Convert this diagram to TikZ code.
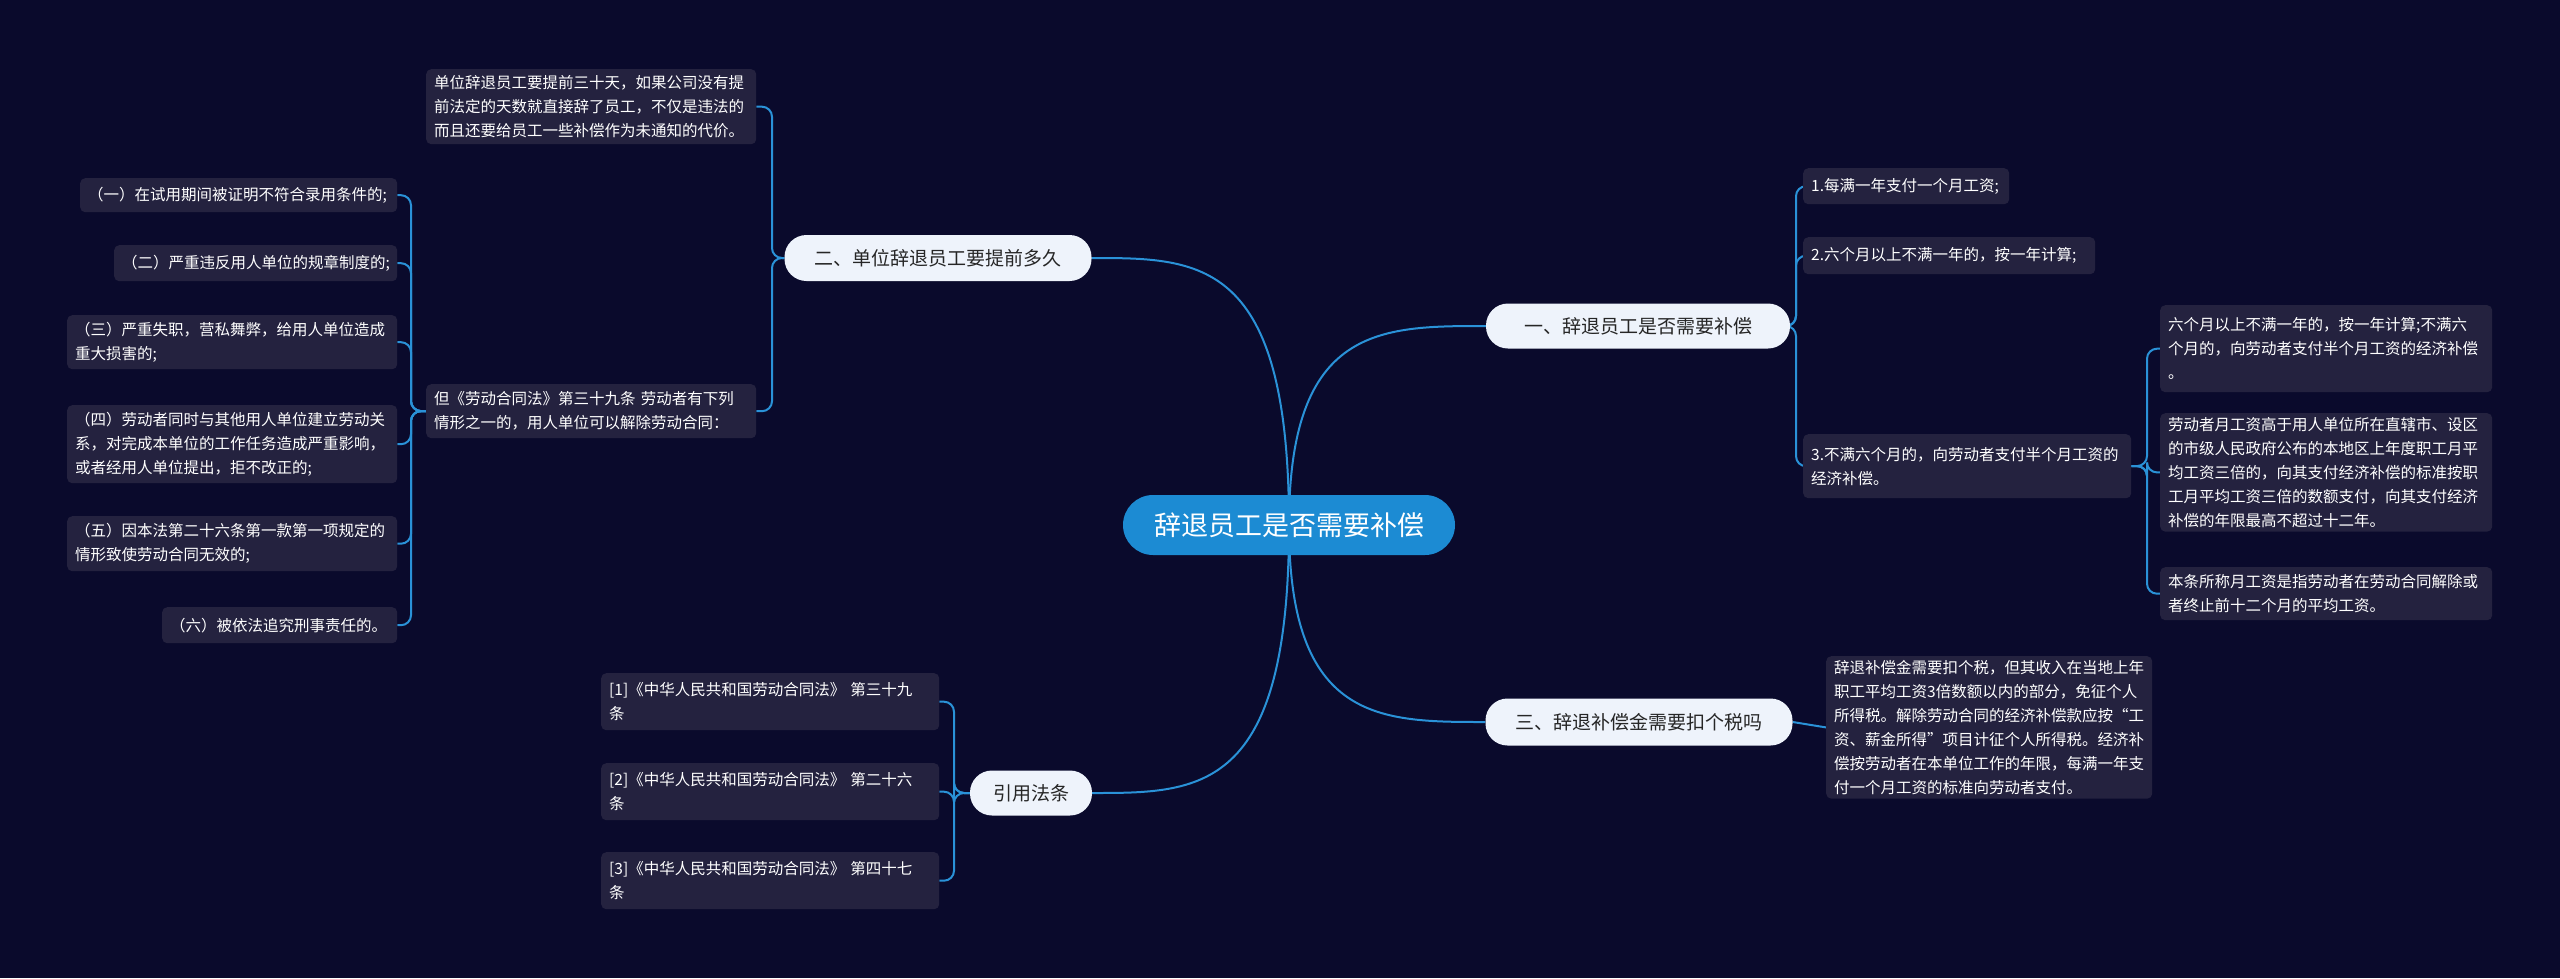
\documentclass[tikz,border=0pt]{standalone}
\usepackage{fontspec}
\setmainfont{Noto Sans CJK SC}
\usetikzlibrary{calc}
\definecolor{bgc}{HTML}{0A0A2C}
\definecolor{leafc}{HTML}{24223F}
\definecolor{linec}{HTML}{2A92D8}
\definecolor{brc}{HTML}{EEF3FB}
\definecolor{rootc}{HTML}{1C8BD3}
\pgfdeclarelayer{edges}
\pgfsetlayers{edges,main}
\tikzset{
 leaf/.style={fill=leafc,text=white,rounded corners=5pt,anchor=north west,inner xsep=8pt,inner ysep=4pt,align=left,font=\fontsize{15.5}{24}\selectfont},
 branch/.style={fill=brc,text=black!85,rounded corners=22pt,inner sep=0pt,font=\fontsize{19}{24}\selectfont},
 conn/.style={draw=linec,line width=2pt,rounded corners=10pt},
}
\newcommand{\leafbox}[6]{% name, x1,y1,x2,y2, text
 \node[leaf,minimum width={#4-#2},minimum height={#5-#3},text width={#4-#2-16}] (#1) at (#2,-#3) {#6};}
\begin{document}
\begin{tikzpicture}[x=1pt,y=1pt]
\begin{pgfonlayer}{edges}
\fill[bgc] (0,0) rectangle (2560,-978);
\end{pgfonlayer}
\useasboundingbox (0,0) rectangle (2560,-978);
\node[fill=rootc,text=white,rounded corners=30pt,minimum width=332,minimum height=60,font=\fontsize{27}{30}\selectfont] (root) at (1289,-525) {辞退员工是否需要补偿};
\node[branch,minimum width=304,minimum height=45] (b1) at (1638,-326) {一、辞退员工是否需要补偿};
\node[branch,minimum width=307,minimum height=47] (b3) at (1639,-722) {三、辞退补偿金需要扣个税吗};
\node[branch,minimum width=307,minimum height=46] (b2) at (938,-258) {二、单位辞退员工要提前多久};
\node[branch,minimum width=122,minimum height=45] (b4) at (1031,-793) {引用法条};
% right side
\leafbox{r1}{1803}{168}{2009}{204}{1.每满一年支付一个月工资;}
\leafbox{r2}{1803}{237}{2095}{274}{2.六个月以上不满一年的，按一年计算;}
\leafbox{r3}{1803}{434}{2131}{498}{3.不满六个月的，向劳动者支付半个月工资的\\经济补偿。}
\leafbox{s1}{2160}{305}{2492}{392}{六个月以上不满一年的，按一年计算;不满六\\个月的，向劳动者支付半个月工资的经济补偿\\。}
\leafbox{s2}{2160}{413}{2492}{531}{劳动者月工资高于用人单位所在直辖市、设区\\的市级人民政府公布的本地区上年度职工月平\\均工资三倍的，向其支付经济补偿的标准按职\\工月平均工资三倍的数额支付，向其支付经济\\补偿的年限最高不超过十二年。}
\leafbox{s3}{2160}{567}{2492}{620}{本条所称月工资是指劳动者在劳动合同解除或\\者终止前十二个月的平均工资。}
\leafbox{t1}{1826}{656}{2152}{790}{辞退补偿金需要扣个税，但其收入在当地上年\\职工平均工资3倍数额以内的部分，免征个人\\所得税。解除劳动合同的经济补偿款应按“工\\资、薪金所得”项目计征个人所得税。经济补\\偿按劳动者在本单位工作的年限，每满一年支\\付一个月工资的标准向劳动者支付。}
% left side
\leafbox{u1}{426}{69}{756}{144}{单位辞退员工要提前三十天，如果公司没有提\\前法定的天数就直接辞了员工，不仅是违法的\\而且还要给员工一些补偿作为未通知的代价。}
\leafbox{u2}{426}{384}{756}{438}{但《劳动合同法》第三十九条 劳动者有下列\\情形之一的，用人单位可以解除劳动合同：}
\leafbox{v1}{80}{178}{397}{212}{（一）在试用期间被证明不符合录用条件的;}
\leafbox{v2}{114}{245}{397}{281}{（二）严重违反用人单位的规章制度的;}
\leafbox{v3}{67}{315}{397}{369}{（三）严重失职，营私舞弊，给用人单位造成\\重大损害的;}
\leafbox{v4}{67}{405}{397}{483}{（四）劳动者同时与其他用人单位建立劳动关\\系，对完成本单位的工作任务造成严重影响，\\或者经用人单位提出，拒不改正的;}
\leafbox{v5}{67}{516}{397}{571}{（五）因本法第二十六条第一款第一项规定的\\情形致使劳动合同无效的;}
\leafbox{v6}{162}{607}{397}{643}{（六）被依法追究刑事责任的。}
\leafbox{w1}{601}{673}{939}{730}{[1]《中华人民共和国劳动合同法》 第三十九\\条}
\leafbox{w2}{601}{763}{939}{820}{[2]《中华人民共和国劳动合同法》 第二十六\\条}
\leafbox{w3}{601}{852}{939}{909}{[3]《中华人民共和国劳动合同法》 第四十七\\条}
\begin{pgfonlayer}{edges}
\draw[conn] (root.center) .. controls (1289,-326) and (1380,-326) .. (b1.west);
\draw[conn] (root.center) .. controls (1289,-722) and (1380,-722) .. (b3.west);
\draw[conn] (root.center) .. controls (1289,-258) and (1200,-258) .. (b2.east);
\draw[conn] (root.center) .. controls (1289,-793) and (1200,-793) .. (b4.east);
\foreach \c in {r1,r2,r3} \draw[conn] (b1.east) -- (1796,-326) |- (\c.west);
\foreach \c in {s1,s2,s3} \draw[conn] (r3.east) -- (2147,-466) |- (\c.west);
\draw[conn] (b3.east) -- (t1.west);
\foreach \c in {u1,u2} \draw[conn] (b2.west) -- (772,-258) |- (\c.east);
\foreach \c in {v1,v2,v3,v4,v5,v6} \draw[conn] (u2.west) -- (411,-411) |- (\c.east);
\foreach \c in {w1,w2,w3} \draw[conn] (b4.west) -- (954,-793) |- (\c.east);
\end{pgfonlayer}
\end{tikzpicture}
\end{document}
